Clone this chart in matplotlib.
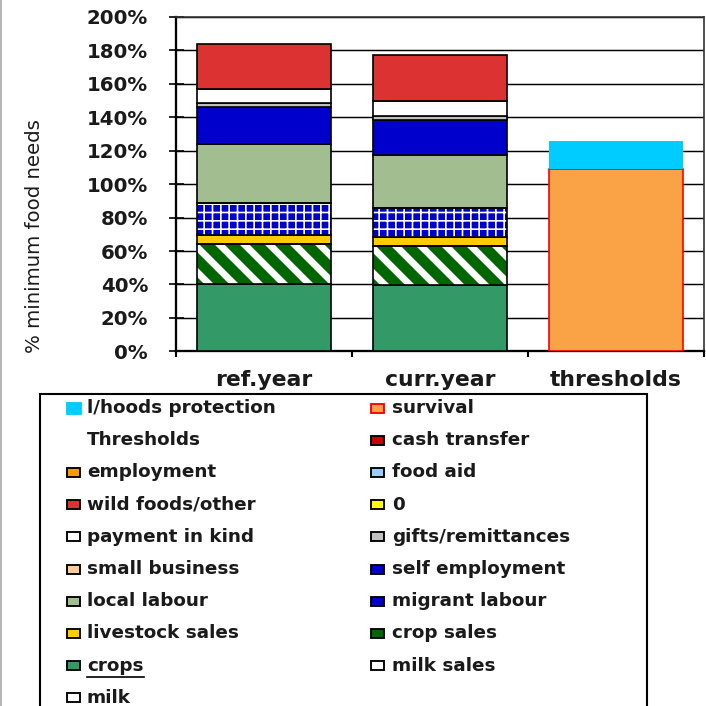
import matplotlib
matplotlib.use('Agg')
import matplotlib.pyplot as plt
import numpy as np
from matplotlib.patches import Rectangle
from matplotlib.lines import Line2D

# ---------------- data ----------------
categories = ['ref.year', 'curr.year', 'thresholds']

milk = [0, 0, 0]
milk_sales = [0, 0, 0]
crops = [40.0, 39.5, 0]
crop_sales = [24.0, 23.5, 0]
livestock_sales = [5.8, 5.3, 0]
migrant_labour = [18.8, 17.7, 0]
local_labour = [35.4, 31.5, 0]
self_employment = [22.1, 21.0, 0]
small_business = [0, 0, 0]
gifts_remittances = [2.2, 2.0, 0]
payment_in_kind = [8.9, 9.4, 0]
zero_series = [0, 0, 0]
wild_foods_other = [26.6, 27.1, 0]
food_aid = [0, 0, 0]
employment = [0, 0, 0]
cash_transfer = [0, 0, 0]
thresholds_series = [0, 0, 0]
survival = [0, 0, 109.0]
lhoods_protection = [0, 0, 17.1]

y_ticks = [0, 20, 40, 60, 80, 100, 120, 140, 160, 180, 200]
y_tick_labels = ['0%', '20%', '40%', '60%', '80%', '100%', '120%', '140%',
                 '160%', '180%', '200%']

# (label, values, face, edge, hatch, hatchcolor) stacked bottom -> top
series = [
    ('milk', milk, 'white', 'black', None, None),
    ('milk sales', milk_sales, 'white', 'black', None, None),
    ('crops', crops, '#339966', 'black', None, None),
    ('crop sales', crop_sales, '#006600', 'black', '\\\\', 'white'),
    ('livestock sales', livestock_sales, '#FFCC00', 'black', None, None),
    ('migrant labour', migrant_labour, '#0000CC', 'black', '+++', 'white'),
    ('local labour', local_labour, '#A2BD8F', 'black', None, None),
    ('self employment', self_employment, '#0000CC', 'black', None, None),
    ('small business', small_business, '#FFCC99', 'black', None, None),
    ('gifts/remittances', gifts_remittances, '#C0C0C0', 'black', None, None),
    ('payment in kind', payment_in_kind, 'white', 'black', None, None),
    ('0', zero_series, '#FFFF00', 'black', None, None),
    ('wild foods/other', wild_foods_other, '#DC3232', 'black', None, None),
    ('food aid', food_aid, '#99CCFF', 'black', None, None),
    ('employment', employment, '#FF9900', 'black', None, None),
    ('cash transfer', cash_transfer, '#CC0000', 'black', None, None),
    ('Thresholds', thresholds_series, 'none', 'none', None, None),
    ('survival', survival, '#F9A346', '#FF0000', None, None),
    ('l/hoods protection', lhoods_protection, '#00CCFF', 'none', None, None),
]
style = {s[0]: s for s in series}

legend_rows = [
    ('l/hoods protection', 'survival'),
    ('Thresholds', 'cash transfer'),
    ('employment', 'food aid'),
    ('wild foods/other', '0'),
    ('payment in kind', 'gifts/remittances'),
    ('small business', 'self employment'),
    ('local labour', 'migrant labour'),
    ('livestock sales', 'crop sales'),
    ('crops', 'milk sales'),
    ('milk', None),
]

# ---------------- figure ----------------
DPI = 150
W = H = 706
fig = plt.figure(figsize=(W / DPI, H / DPI), dpi=DPI)
fx = lambda px: px / W
fy = lambda py: 1 - py / H

ax = fig.add_axes([fx(176), fy(351.3), fx(704) - fx(176), fy(17) - fy(351.3)])

x = np.arange(len(categories))
bw = 0.76
bottom = np.zeros(len(categories))
for label, vals, fc, ec, hatch, hc in series:
    v = np.asarray(vals, dtype=float)
    lw = np.where(v > 0, 0.8, 0.0)
    if hatch:
        bars = ax.bar(x, v, bw, bottom=bottom, color=fc, edgecolor=hc,
                      hatch=hatch, linewidth=0, zorder=3)
        hl = 3.3 if '\\' in hatch else 0.8
        for b in bars:
            if hasattr(b, 'set_hatch_linewidth'):
                b.set_hatch_linewidth(hl)
        ax.bar(x, v, bw, bottom=bottom, fill=False, edgecolor=ec,
               linewidth=lw, zorder=4)
    else:
        ax.bar(x, v, bw, bottom=bottom, color=fc, edgecolor=ec,
               linewidth=lw if ec != 'none' else 0, zorder=3)
    bottom += v

ax.set_xlim(-0.5, 2.5)
ax.set_ylim(0, 200)
ax.set_yticks(y_ticks)
ax.set_yticklabels(y_tick_labels)
ax.set_xticks([-0.5, 0.5, 1.5, 2.5])
ax.set_xticklabels([])
ax.set_xticks(x, minor=True)
ax.set_xticklabels(categories, minor=True)
ax.tick_params(axis='x', which='major', direction='out', length=3, width=1.0)
ax.tick_params(axis='x', which='minor', length=0, pad=9,
               labelsize=10.5)
for t in ax.get_xticklabels(minor=True):
    t.set_fontweight('bold')
    t.set_color('#1a1a1a')
ax.tick_params(axis='y', direction='inout', length=7.2, width=0.8, pad=9.8,
               labelsize=9.5)
for t in ax.get_yticklabels():
    t.set_fontweight('bold')
    t.set_color('#1a1a1a')

ax.yaxis.grid(True, color='black', linewidth=0.7)
ax.set_axisbelow(True)
for side in ['left', 'bottom']:
    ax.spines[side].set_linewidth(1.1)
    ax.spines[side].set_color('black')
for side in ['top', 'right']:
    ax.spines[side].set_linewidth(0.8)
    ax.spines[side].set_color('#333333')

fig.text(fx(35), fy(236), '% minimum food needs', rotation=90,
         ha='center', va='center', fontsize=9.5, color='#1a1a1a')

# left outer border
fig.add_artist(Line2D([fx(1), fx(1)], [0, 1], color='#A8A8A8', lw=0.8))

# ---------------- legend ----------------
fig.add_artist(Rectangle((fx(40), fy(740)), fx(647) - fx(40), fy(394) - fy(740),
                         transform=fig.transFigure, fill=False,
                         edgecolor='black', linewidth=1.0))
row0 = 408
pitch = 32.2
col_marker = [66.5, 370.5]
col_text = [87, 392]
crops_text = None
for i, row in enumerate(legend_rows):
    yc = row0 + i * pitch
    for c, name in enumerate(row):
        if name is None:
            continue
        _, _, fc, ec, _, _ = style[name]
        if name != 'Thresholds':
            if name == 'l/hoods protection':
                mw, mh, mec = 14, 11, fc
            else:
                mw, mh, mec = 13, 9, ('black' if ec in ('black', 'none') else ec)
            fig.add_artist(Rectangle((fx(col_marker[c]), fy(yc + mh / 2)),
                                     fx(mw), fx(mh), transform=fig.transFigure,
                                     facecolor=fc, edgecolor=mec, linewidth=0.9))
        t = fig.text(fx(col_text[c]), fy(yc), name, ha='left', va='center',
                     fontsize=8.8, fontweight='bold', color='#1a1a1a')
        if name == 'crops':
            crops_text = t

fig.canvas.draw()
if crops_text is not None:
    bb = crops_text.get_window_extent()
    y_ul = fy(row0 + 8 * pitch + 11)
    fig.add_artist(Line2D([bb.x0 / W, bb.x1 / W], [y_ul, y_ul],
                          color='black', lw=0.8))

fig.savefig('out.png', dpi=DPI)
